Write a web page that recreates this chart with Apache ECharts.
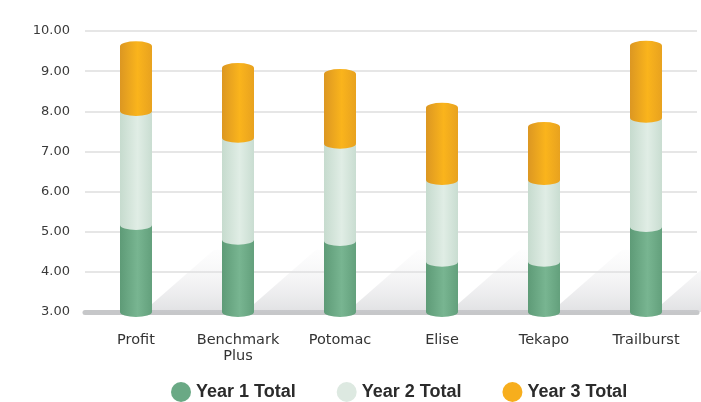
<!DOCTYPE html>
<html>
<head>
<meta charset="utf-8">
<script src="https://cdn.jsdelivr.net/npm/echarts@6/dist/echarts.min.js"></script>
<style>
  html, body { margin: 0; padding: 0; background: #fff; }
  #chart { width: 701px; height: 402px; }
</style>
</head>
<body>
<div id="chart"></div>
<script>
// categories and stacked segment values (each segment sits on the previous one)
const categories = ['Profit', 'Benchmark\nPlus', 'Potomac', 'Elise', 'Tekapo', 'Trailburst'];
const year1 = [5.17, 4.80, 4.77, 4.25, 4.25, 5.12];
const year2 = [2.84, 2.54, 2.42, 2.04, 2.04, 2.72];
const year3 = [1.61, 1.74, 1.74, 1.80, 1.32, 1.79];
const yTicks = [3, 4, 5, 6, 7, 8, 9, 10];

const cum1 = year1.slice();
const cum2 = year1.map((v, i) => v + year2[i]);
const cum3 = cum2.map((v, i) => v + year3[i]);

function cyl(edge, mid, edge2) {
    return new echarts.graphic.LinearGradient(0, 0, 1, 0, [
        {offset: 0, color: edge},
        {offset: 0.55, color: mid},
        {offset: 1, color: edge2}
    ]);
}
const green = () => cyl('#5e9b77', '#78b591', '#63a07c');
const pale = () => cyl('#c6dbce', '#e0ede5', '#c9ddd1');
const orange = () => cyl('#dc9722', '#fab41c', '#e8a21f');

const BAR_W = 32;
const CAP = [BAR_W, 10];

function cap(name, data, color) {
    return {
        type: 'scatter',
        name: name,
        symbol: 'circle',
        symbolSize: CAP,
        clip: false,
        z: 5,
        silent: true,
        itemStyle: {color: color, opacity: 1},
        data: data
    };
}

const chart = echarts.init(document.getElementById('chart'));
chart.setOption({
    animation: false,
    backgroundColor: '#fff',
    grid: {left: 85, right: 4, top: 31, bottom: 90},
    legend: {
        left: 166,
        top: 377,
        icon: 'circle',
        itemWidth: 20,
        itemHeight: 20,
        itemGap: 41,
        textStyle: {fontFamily: 'Liberation Sans', fontWeight: 'bold', fontSize: 18, color: '#2b2b2b'},
        data: [
            {name: 'Year 1 Total', itemStyle: {color: '#6aa985'}},
            {name: 'Year 2 Total', itemStyle: {color: '#dde9e1'}},
            {name: 'Year 3 Total', itemStyle: {color: '#f7ae1d'}}
        ]
    },
    xAxis: {
        type: 'category',
        data: categories,
        axisTick: {show: false},
        axisLine: {lineStyle: {color: '#c6c7c9', width: 5}},
        axisLabel: {
            interval: 0,
            margin: 20,
            fontFamily: 'DejaVu Sans',
            fontSize: 14.5,
            lineHeight: 16,
            color: '#333'
        }
    },
    yAxis: {
        type: 'value',
        min: yTicks[0],
        max: yTicks[yTicks.length - 1],
        interval: 1,
        axisLine: {show: false},
        axisTick: {show: false},
        splitLine: {lineStyle: {color: '#dedede', width: 1.5}},
        axisLabel: {
            margin: 15,
            fontFamily: 'DejaVu Sans',
            fontSize: 13,
            color: '#3a3a3a',
            formatter: v => v.toFixed(2)
        }
    },
    series: [
        {
            // floor shadows
            type: 'custom',
            silent: true,
            z: 1,
            data: categories.map((c, i) => [i, yTicks[0]]),
            encode: {x: 0, y: 1},
            renderItem: function (params, api) {
                const idx = api.value(0);
                const base = api.coord([idx, yTicks[0]]);
                const top = api.coord([idx, 4.55]);
                const w = api.size([1, 0])[0];
                const xr = base[0] + BAR_W / 2;
                const x2 = base[0] + w - BAR_W / 2 - 8;
                return {
                    type: 'polygon',
                    shape: {points: [[xr, base[1]], [xr, base[1] - 8], [x2, top[1]], [x2 + 14, top[1]], [x2 + 14, base[1]]]},
                    style: {
                        fill: new echarts.graphic.LinearGradient(0, 1, 0, 0, [
                            {offset: 0, color: 'rgba(200,201,205,0.55)'},
                            {offset: 1, color: 'rgba(240,240,242,0.12)'}
                        ])
                    }
                };
            }
        },
        {name: 'Year 1 Total', type: 'bar', stack: 'tot', barWidth: BAR_W, itemStyle: {color: green()}, data: year1, z: 3},
        {name: 'Year 2 Total', type: 'bar', stack: 'tot', barWidth: BAR_W, itemStyle: {color: pale()}, data: year2, z: 3},
        {name: 'Year 3 Total', type: 'bar', stack: 'tot', barWidth: BAR_W, itemStyle: {color: orange()}, data: year3, z: 3},
        cap('base', categories.map((c, i) => [i, yTicks[0]]), green()),
        cap('b1', cum1.map((v, i) => [i, v]), pale()),
        cap('b2', cum2.map((v, i) => [i, v]), orange()),
        cap('b3', cum3.map((v, i) => [i, v]), orange())
    ]
});
</script>
</body>
</html>
